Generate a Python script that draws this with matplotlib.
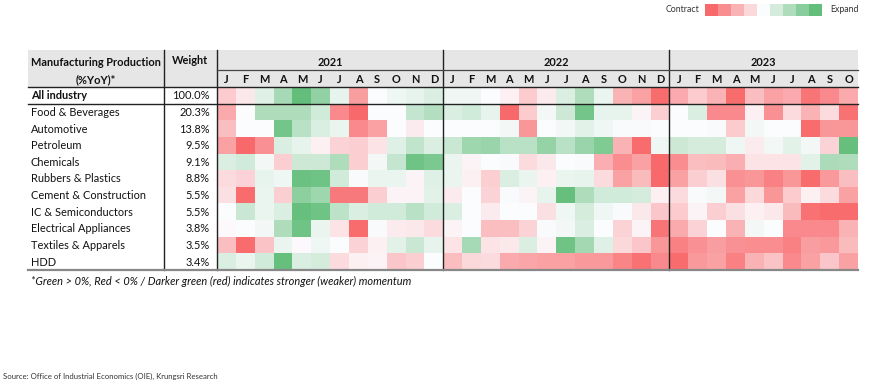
import numpy as np
import matplotlib.pyplot as plt
from matplotlib.colors import LinearSegmentedColormap

plt.rcParams['font.family'] = ['Lato', 'DejaVu Sans']

# Data: momentum scores (-4 strong contraction ... +4 strong expansion)
industries = ['All industry', 'Food & Beverages', 'Automotive', 'Petroleum', 'Chemicals',
              'Rubbers & Plastics', 'Cement & Construction', 'IC & Semiconductors',
              'Electrical Appliances', 'Textiles & Apparels', 'HDD']
weights = ['100.0%', '20.3%', '13.8%', '9.5%', '9.1%', '8.8%', '5.5%', '5.5%', '3.8%', '3.5%', '3.4%']
years = ['2021', '2022', '2023']
months_per_year = [12, 12, 10]
month_labels = ['J', 'F', 'M', 'A', 'M', 'J', 'J', 'A', 'S', 'O', 'N', 'D']

vals_2021 = [
    [-1.2, -0.5, 0.7, 2.0, 3.8, 2.5, 0.5, -2.3, 0.0, 0.3, 0.5, 0.8],
    [-2.0, 0.0, 1.8, 1.8, 1.8, 1.0, -2.8, -3.8, 0.0, 0.0, 1.3, 1.7],
    [-1.5, 0.0, 0.0, 3.2, 1.6, 0.8, 0.4, -2.8, -2.2, 0.0, -0.4, 0.0],
    [-2.2, -3.6, -2.6, 0.8, 0.5, -0.3, -1.0, -1.1, -0.6, 0.7, 1.4, 0.8],
    [0.8, 1.0, 0.2, -1.1, 1.1, 1.1, 1.8, -1.1, 0.2, 1.3, 3.3, 3.0],
    [-0.8, -1.0, 0.5, 0.3, 3.4, 3.3, 1.0, 0.1, 0.4, 0.4, -0.2, 0.7],
    [-0.7, -3.5, 0.4, -1.1, 2.6, 2.2, -3.2, -3.2, -1.1, -0.2, -0.2, 0.6],
    [0.0, 1.2, 0.4, 0.8, 3.5, 3.3, 1.5, 0.8, 1.0, 1.0, 1.6, 1.0],
    [-0.1, 0.0, 0.2, 1.8, 3.3, 0.4, -0.6, -3.5, 0.1, -0.4, -0.5, -0.8],
    [-1.5, -3.5, -1.4, 0.4, -0.1, 0.3, 0.0, -1.0, -0.3, 0.6, 1.2, 0.5],
    [0.8, 0.4, 1.0, 3.5, 0.8, 0.9, -0.8, -0.3, -0.2, -1.3, -1.1, 0.0],
]
vals_2022 = [
    [0.3, 0.3, 0.0, -0.3, -1.2, -0.4, 0.8, 1.8, 0.4, -1.8, -2.2, -3.5],
    [0.8, 1.0, 0.5, -3.8, -1.2, 0.2, 1.1, 3.2, 0.5, 0.5, -0.2, -1.1],
    [0.0, 0.0, 0.0, 0.2, -2.5, 0.0, 0.2, 0.6, 0.3, 0.1, 0.1, 0.0],
    [1.2, 2.2, 2.3, 1.6, 1.6, 2.4, 1.6, 2.3, 2.9, -1.8, -3.5, 0.3],
    [0.4, -0.2, 0.0, 0.1, -0.8, -0.5, 0.0, 0.1, -1.9, -2.7, -2.2, -3.6],
    [0.4, -0.3, -1.1, 0.8, 0.4, -0.3, 0.4, 0.5, -0.8, -2.2, -1.6, -3.6],
    [-0.4, 0.0, -1.0, 0.1, -0.2, 0.5, 3.5, 1.8, 1.0, 1.0, 0.9, -0.3],
    [0.8, 0.0, -0.4, 0.0, 0.0, -0.7, 0.3, 0.9, 0.3, 0.1, -0.5, -1.3],
    [-0.2, 0.0, -1.5, -1.5, -1.0, 0.1, 0.2, 0.8, 0.0, -1.0, -0.2, -3.3],
    [-0.6, 2.0, -0.6, -0.5, 0.8, -0.2, 3.3, 2.1, 0.7, -0.9, -1.3, -2.5],
    [-1.5, -0.9, -0.8, -2.0, -2.1, -2.2, -2.2, -2.4, -2.4, -2.9, -3.4, -2.8],
]
vals_2023 = [
    [-2.0, -1.2, -1.8, -3.5, -1.5, -2.2, -2.0, -3.3, -2.8, -2.0],
    [0.0, 0.8, -2.8, -2.8, -0.3, -2.6, -0.8, -1.8, -0.8, -3.4],
    [0.0, 0.0, 0.1, -1.2, 0.2, 0.0, 0.0, -3.5, -2.5, -2.5],
    [1.1, 0.9, 0.9, 0.3, -0.4, 0.2, 0.6, 0.2, -1.0, 3.5],
    [-2.7, -1.5, -1.6, -1.9, -0.6, -0.6, -0.6, 0.6, 1.9, 1.8],
    [-2.2, -1.1, -0.7, -2.6, -2.5, -3.0, -2.5, -3.5, -2.4, -1.5],
    [-0.8, 0.1, 0.2, -2.2, -0.9, -2.5, -1.2, -0.3, -0.8, -2.2],
    [-1.2, -0.2, -1.1, -0.7, -0.3, -0.5, -1.6, -3.4, -3.5, -3.5],
    [-2.0, -1.0, 0.0, -1.8, 0.2, 0.0, -2.8, -2.8, -2.8, -1.8],
    [-3.0, -2.6, -2.3, -2.6, -2.7, -2.7, -3.0, -2.3, -2.4, -1.6],
    [-3.5, -2.4, -2.2, -3.0, -1.8, -1.4, -2.8, -2.2, -1.3, -2.2],
]
legend_levels = [-4, -3, -2, -1, 0, 1, 2, 3, 4]

data = np.hstack([np.array(vals_2021), np.array(vals_2022), np.array(vals_2023)])
cmap = LinearSegmentedColormap.from_list('rwg', ['#F8696B', '#FCFCFF', '#63BE7B'])
vlim = 3.6

W, H = 870, 388
fig = plt.figure(figsize=(W / 100, H / 100), dpi=100)
ax = fig.add_axes([0, 0, 1, 1])
ax.set_xlim(0, W)
ax.set_ylim(H, 0)
ax.axis('off')

# layout (pixels)
tbl_l, tbl_r = 28, 858
col_w = 164       # end of label column
hm_l = 217        # start of heatmap
top, yr_b, hdr_b, bot = 50, 70, 87, 270
n_cols = data.shape[1]
n_rows = data.shape[0]
xe = np.linspace(hm_l, tbl_r, n_cols + 1)
ye = np.linspace(hdr_b, bot, n_rows + 1)

# header background
ax.add_patch(plt.Rectangle((tbl_l, top), tbl_r - tbl_l, hdr_b - top,
                           facecolor='#E7E6E6', edgecolor='none', zorder=0))

# heatmap
ax.pcolormesh(xe, ye, data, cmap=cmap, vmin=-vlim, vmax=vlim, zorder=1)

# header text
fs = 7.9
tc = '#111111'
ax.text((tbl_l + col_w) / 2, 62, 'Manufacturing Production', ha='center', va='center',
        fontsize=fs, fontweight='bold', color=tc)
ax.text((tbl_l + col_w) / 2, 79.5, '(%YoY)*', ha='center', va='center',
        fontsize=fs, fontweight='bold', color=tc)
ax.text((col_w + hm_l) / 2, 61, 'Weight', ha='center', va='center',
        fontsize=fs, fontweight='bold', color=tc)

start = 0
for yr, nm in zip(years, months_per_year):
    ax.text((xe[start] + xe[start + nm]) / 2, 62, yr, ha='center', va='center',
            fontsize=fs, fontweight='bold', color=tc)
    for j in range(nm):
        ax.text((xe[start + j] + xe[start + j + 1]) / 2, 79.5, month_labels[j],
                ha='center', va='center', fontsize=fs, fontweight='bold', color=tc)
    start += nm

# row labels
for i, (name, w) in enumerate(zip(industries, weights)):
    yc = (ye[i] + ye[i + 1]) / 2 + 0.5
    bold = 'bold' if i == 0 else 'normal'
    ax.text(31, yc, name, ha='left', va='center', fontsize=fs, fontweight=bold, color=tc)
    ax.text(210, yc, w, ha='right', va='center', fontsize=fs, color=tc)

# grid lines
lc = '#222222'
for x in [col_w, hm_l, xe[12], xe[24]]:
    ax.plot([x, x], [top, bot], color=lc, lw=1.0, zorder=3)
ax.plot([hm_l, tbl_r], [yr_b, yr_b], color='#444444', lw=0.9, zorder=3)
ax.plot([tbl_l, tbl_r], [hdr_b, hdr_b], color=lc, lw=1.0, zorder=3)
ax.plot([tbl_l, tbl_r], [ye[1], ye[1]], color=lc, lw=1.0, zorder=3)
ax.plot([tbl_l, tbl_r], [bot, bot], color='#888888', lw=1.6, zorder=3)

# footnote and source
ax.text(31, 281, '*Green > 0%, Red < 0% / Darker green (red) indicates stronger (weaker) momentum',
        ha='left', va='center', fontsize=fs, style='italic', color=tc)
ax.text(3, 376, 'Source: Office of Industrial Economics (OIE), Krungsri Research',
        ha='left', va='center', fontsize=5.6, color='#333333')

# colour legend
lg_x = np.linspace(705, 822, len(legend_levels) + 1)
ax.pcolormesh(lg_x, [4, 16], np.array([legend_levels]), cmap=cmap, vmin=-4, vmax=4)
ax.text(699, 10, 'Contract', ha='right', va='center', fontsize=6.3, color='#333333')
ax.text(830, 10, 'Expand', ha='left', va='center', fontsize=6.3, color='#333333')

fig.savefig('out.png', dpi=100)
